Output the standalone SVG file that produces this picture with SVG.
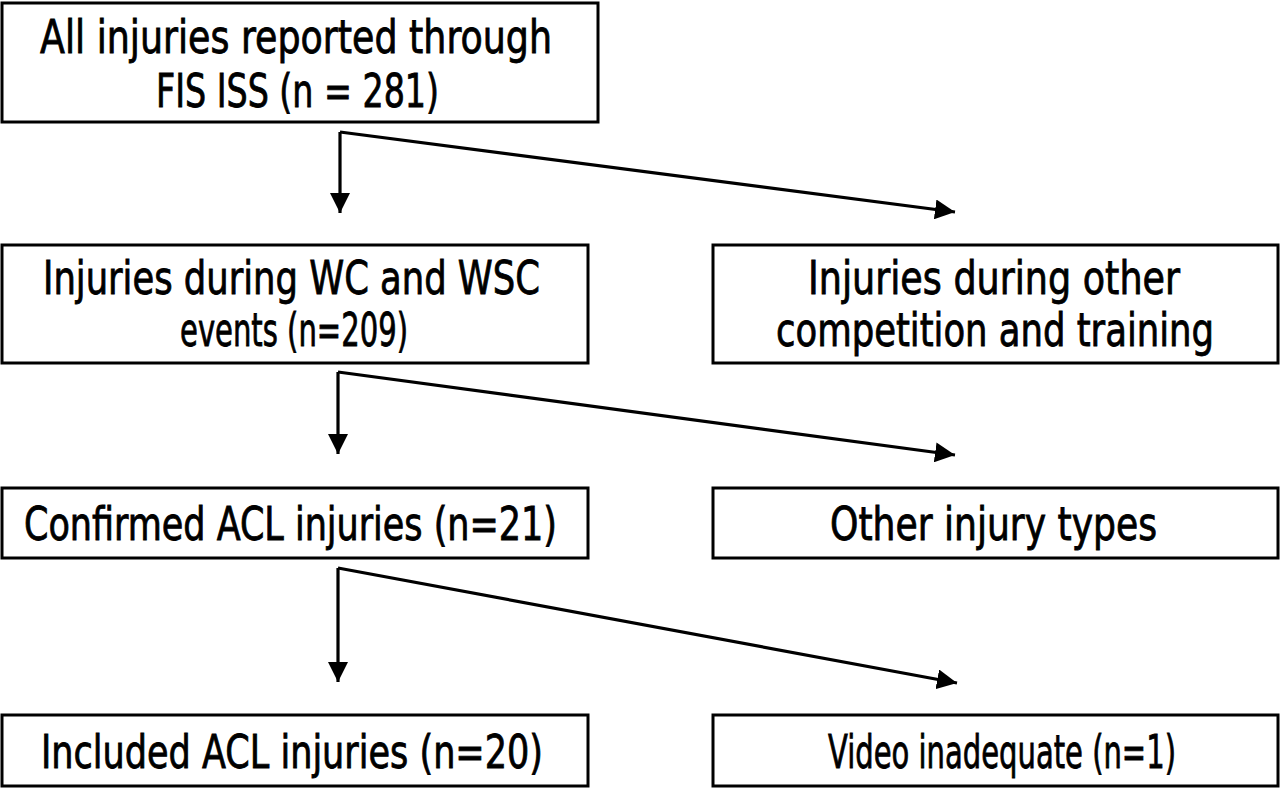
<svg xmlns="http://www.w3.org/2000/svg" width="1280" height="788" viewBox="0 0 1280 788">
<style>
.box{fill:#fff;stroke:#000;stroke-width:3}
.lbl{font-family:"DejaVu Sans","Liberation Sans",sans-serif;font-stretch:condensed;font-size:46px;fill:#000;stroke:#000;stroke-width:0.8}
.con{fill:none;stroke:#000;stroke-width:3.2;stroke-linejoin:miter}
</style>
<defs>
<marker id="ah" markerUnits="userSpaceOnUse" markerWidth="20" markerHeight="20" refX="18" refY="9" orient="auto" viewBox="0 0 18 18">
<path d="M0,0 L18,9 L0,18 z" fill="#000"/>
</marker>
</defs>
<rect width="1280" height="788" fill="#fff"/>
<g id="connectors">
<path class="con" d="M340,132 V213" marker-end="url(#ah)"/>
<path class="con" d="M340,132 L955,212" marker-end="url(#ah)"/>
<path class="con" d="M338,372 V454" marker-end="url(#ah)"/>
<path class="con" d="M338,372 L955,455" marker-end="url(#ah)"/>
<path class="con" d="M338,568 V682" marker-end="url(#ah)"/>
<path class="con" d="M338,568 L957,683" marker-end="url(#ah)"/>
</g>
<g id="n1">
<rect class="box" x="2" y="3" width="596" height="119"/>
<text class="lbl" x="40" y="53" textLength="512" lengthAdjust="spacingAndGlyphs">All injuries reported through</text>
<text class="lbl" x="156" y="107" textLength="283" lengthAdjust="spacingAndGlyphs">FIS ISS (n = 281)</text>
</g>
<g id="n2">
<rect class="box" x="2" y="245" width="586" height="118"/>
<text class="lbl" x="43" y="294" textLength="497" lengthAdjust="spacingAndGlyphs">Injuries during WC and WSC</text>
<text class="lbl" x="180" y="346" textLength="228" lengthAdjust="spacingAndGlyphs">events (n=209)</text>
</g>
<g id="n3">
<rect class="box" x="713" y="245" width="565" height="118"/>
<text class="lbl" x="808" y="294" textLength="372" lengthAdjust="spacingAndGlyphs">Injuries during other</text>
<text class="lbl" x="776" y="346" textLength="438" lengthAdjust="spacingAndGlyphs">competition and training</text>
</g>
<g id="n4">
<rect class="box" x="2" y="488" width="586" height="70"/>
<text class="lbl" x="24" y="540" textLength="533" lengthAdjust="spacingAndGlyphs">Confirmed ACL injuries (n=21)</text>
</g>
<g id="n5">
<rect class="box" x="713" y="488" width="565" height="70"/>
<text class="lbl" x="830" y="540" textLength="327" lengthAdjust="spacingAndGlyphs">Other injury types</text>
</g>
<g id="n6">
<rect class="box" x="2" y="715" width="586" height="71"/>
<text class="lbl" x="41" y="768" textLength="502" lengthAdjust="spacingAndGlyphs">Included ACL injuries (n=20)</text>
</g>
<g id="n7">
<rect class="box" x="713" y="715" width="565" height="71"/>
<text class="lbl" x="828" y="768" textLength="348" lengthAdjust="spacingAndGlyphs">Video inadequate (n=1)</text>
</g>
</svg>
